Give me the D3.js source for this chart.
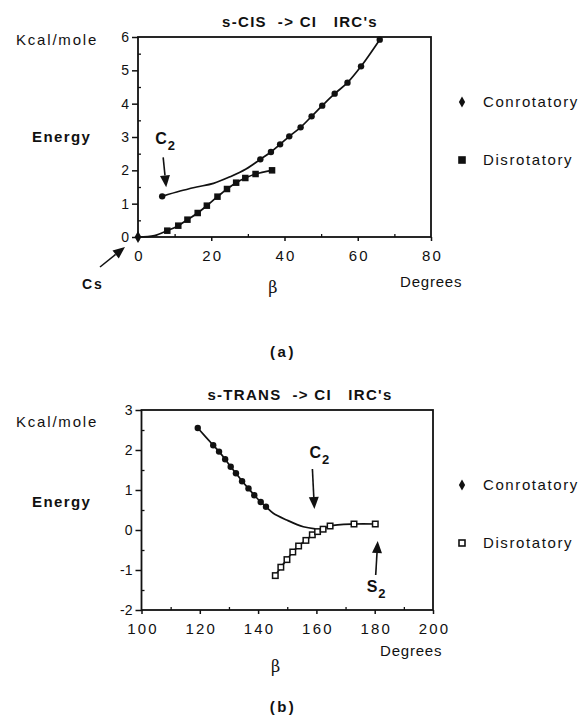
<!DOCTYPE html>
<html>
<head>
<meta charset="utf-8">
<script src="https://cdn.jsdelivr.net/npm/d3@7"></script>
<style>
    body { margin: 0; background: #fff; }
    text { font-family: "Liberation Sans", Arial, Helvetica, sans-serif; fill: #111; }
</style>
</head>
<body>
<svg id="chart" width="587" height="723"></svg>
<script>
// (a) s-CIS -> CI
const cisConBeta   = [6.6, 11.5, 16.0, 20.6, 25.2, 29.5, 33.4, 36.3, 38.8, 41.3, 44.4, 47.4, 50.3, 53.7, 57.2, 60.9, 66.0];
const cisConEnergy = [1.22, 1.38, 1.50, 1.61, 1.81, 2.04, 2.33, 2.55, 2.78, 3.02, 3.29, 3.62, 3.94, 4.30, 4.63, 5.12, 5.92];
const cisConMarked = [1, 0, 0, 0, 0, 0, 1, 1, 1, 1, 1, 1, 1, 1, 1, 1, 1];
const cisDisBeta   = [0, 4.5, 8.0, 11.0, 13.5, 16.3, 18.8, 21.7, 24.3, 26.8, 29.3, 32.1, 36.6];
const cisDisEnergy = [0, 0.04, 0.19, 0.34, 0.52, 0.72, 0.94, 1.21, 1.44, 1.63, 1.77, 1.89, 2.00];
const cisDisMarked = [0, 0, 1, 1, 1, 1, 1, 1, 1, 1, 1, 1, 1];
const cisXTicks = [0, 20, 40, 60, 80];
const cisYTicks = [0, 1, 2, 3, 4, 5, 6];

// (b) s-TRANS -> CI
const transConBeta   = [119.3, 124.6, 126.6, 128.7, 130.6, 132.4, 134.5, 136.7, 138.7, 140.9, 142.7, 145.2, 149.8, 155.5, 159.6];
const transConEnergy = [2.55, 2.12, 1.96, 1.77, 1.58, 1.42, 1.22, 1.04, 0.87, 0.70, 0.58, 0.42, 0.25, 0.08, 0.03];
const transConMarked = [1, 1, 1, 1, 1, 1, 1, 1, 1, 1, 1, 0, 0, 0, 0];
const transDisBeta   = [145.9, 147.8, 149.9, 151.9, 153.9, 156.4, 158.6, 160.4, 162.3, 164.7, 172.9, 180.2];
const transDisEnergy = [-1.14, -0.93, -0.74, -0.55, -0.40, -0.26, -0.12, -0.04, 0.02, 0.10, 0.15, 0.15];
const transDisMarked = [1, 1, 1, 1, 1, 1, 1, 1, 1, 1, 1, 1];
const transXTicks = [100, 120, 140, 160, 180, 200];
const transYTicks = [-2, -1, 0, 1, 2, 3];

const svg = d3.select("#chart");
const ink = "#111";

function arrow(g, x1, y1, x2, y2) {
    const a = Math.atan2(y2 - y1, x2 - x1);
    const len = 12, half = 5;
    const bx = x2 - len * Math.cos(a), by = y2 - len * Math.sin(a);
    g.append("line")
        .attr("x1", x1).attr("y1", y1).attr("x2", bx).attr("y2", by)
        .attr("stroke", ink).attr("stroke-width", 1.6);
    g.append("path")
        .attr("d", `M${x2},${y2}L${bx + half * Math.sin(a)},${by - half * Math.cos(a)}L${bx - half * Math.sin(a)},${by + half * Math.cos(a)}Z`)
        .attr("fill", ink);
}

function subLabel(g, x0, y0, main, sub, size) {
    const t = g.append("text")
        .attr("x", x0).attr("y", y0)
        .attr("font-size", size).attr("font-weight", "bold");
    t.append("tspan").text(main);
    t.append("tspan").attr("dy", 6).attr("dx", 1).attr("font-size", size - 3).text(sub);
}

function drawPanel(p) {
    const x = d3.scaleLinear().domain(p.xDomain).range(p.xRange);
    const y = d3.scaleLinear().domain(p.yDomain).range(p.yRange);
    const g = svg.append("g");

    // minor ticks
    const xMinor = d3.range(p.xDomain[0] + p.xStep / 2, p.xDomain[1], p.xStep);
    const yMinor = d3.range(p.yDomain[0] + 0.5, p.yDomain[1], 1);
    g.append("g").attr("transform", `translate(0,${p.yRange[0]})`)
        .call(d3.axisBottom(x).tickValues(xMinor).tickSize(-3).tickFormat(""))
        .call(a => a.select(".domain").remove())
        .selectAll("line").attr("stroke", ink).attr("stroke-width", 1.3);
    g.append("g").attr("transform", `translate(${p.xRange[0]},0)`)
        .call(d3.axisLeft(y).tickValues(yMinor).tickSize(-3).tickFormat(""))
        .call(a => a.select(".domain").remove())
        .selectAll("line").attr("stroke", ink).attr("stroke-width", 1.3);

    // major axes
    const xAxis = g.append("g").attr("transform", `translate(0,${p.yRange[0]})`)
        .call(d3.axisBottom(x).tickValues(p.xTicks).tickSize(4).tickPadding(9).tickFormat(d => String(d)));
    xAxis.attr("font-size", 15);
    xAxis.select(".domain").remove();
    xAxis.selectAll("line").attr("stroke", ink).attr("stroke-width", 1.5);
    xAxis.selectAll("text").attr("letter-spacing", 2.2).attr("dx", 1);

    const yAxis = g.append("g").attr("transform", `translate(${p.xRange[0]},0)`)
        .call(d3.axisLeft(y).tickValues(p.yTicks).tickSize(6).tickPadding(3).tickFormat(d => String(d)));
    yAxis.attr("font-size", 14);
    yAxis.select(".domain").remove();
    yAxis.selectAll("line").attr("stroke", ink).attr("stroke-width", 1.5);

    // frame
    g.append("rect")
        .attr("x", p.xRange[0]).attr("y", p.yRange[1])
        .attr("width", p.xRange[1] - p.xRange[0])
        .attr("height", p.yRange[0] - p.yRange[1])
        .attr("fill", "none").attr("stroke", ink).attr("stroke-width", 1.8);

    // curves
    const line = (bx, ey) => d3.line()
        .x(i => x(bx[i])).y(i => y(ey[i]))
        .curve(d3.curveCatmullRom.alpha(0.5))(d3.range(bx.length));
    g.append("path").attr("d", line(p.disBeta, p.disEnergy))
        .attr("fill", "none").attr("stroke", ink).attr("stroke-width", 1.7);
    g.append("path").attr("d", line(p.conBeta, p.conEnergy))
        .attr("fill", "none").attr("stroke", ink).attr("stroke-width", 1.7);

    // markers
    g.append("g").selectAll("rect")
        .data(d3.range(p.disBeta.length).filter(i => p.disMarked[i]))
        .join("rect")
        .attr("x", i => x(p.disBeta[i]) - p.disSize / 2).attr("y", i => y(p.disEnergy[i]) - p.disSize / 2)
        .attr("width", p.disSize).attr("height", p.disSize)
        .attr("fill", p.disFill).attr("stroke", ink).attr("stroke-width", 1.5);
    g.append("g").selectAll("circle")
        .data(d3.range(p.conBeta.length).filter(i => p.conMarked[i]))
        .join("circle")
        .attr("cx", i => x(p.conBeta[i])).attr("cy", i => y(p.conEnergy[i]))
        .attr("r", 3.2).attr("fill", ink);

    // titles and axis labels
    g.append("text").attr("x", 300).attr("y", p.yRange[1] - 10)
        .attr("text-anchor", "middle").attr("font-size", 15).attr("font-weight", "bold")
        .attr("letter-spacing", 1.3).style("white-space", "pre")
        .text(p.title);
    g.append("text").attr("x", 16).attr("y", p.kcalY)
        .attr("font-size", 15).attr("letter-spacing", 1.8).text("Kcal/mole");
    g.append("text").attr("x", 32).attr("y", p.energyY)
        .attr("font-size", 15).attr("font-weight", "bold").attr("letter-spacing", 1.4).text("Energy");
    g.append("text").attr("x", x(p.xDomain[0] + 0.46 * (p.xDomain[1] - p.xDomain[0]))).attr("y", p.betaY)
        .style("font-family", "'DejaVu Serif', serif")
        .attr("font-size", 16).attr("text-anchor", "middle").text("β");
    g.append("text").attr("x", p.degreesX).attr("y", p.degreesY)
        .attr("font-size", 15).attr("letter-spacing", 0.8).text("Degrees");
    g.append("text").attr("x", 283).attr("y", p.tagY)
        .attr("font-size", 15).attr("font-weight", "bold").attr("letter-spacing", 2.5)
        .attr("text-anchor", "middle").text(p.tag);

    // legend
    const legend = g.append("g").attr("transform", "translate(462,0)");
    legend.append("path")
        .attr("transform", `translate(0,${p.legendY[0]})`)
        .attr("d", d3.symbol(d3.symbolDiamond, 34)())
        .attr("fill", ink);
    legend.append("rect")
        .attr("x", -3).attr("y", p.legendY[1] - 3).attr("width", 6).attr("height", 6)
        .attr("fill", p.disFill).attr("stroke", ink).attr("stroke-width", 1.6);
    legend.selectAll("text.lg")
        .data(["Conrotatory", "Disrotatory"])
        .join("text").attr("class", "lg")
        .attr("x", 21).attr("y", (d, i) => p.legendY[i] + 5)
        .attr("font-size", 15).attr("letter-spacing", 1.6)
        .text(d => d);

    return { g, x, y };
}

// panel (a)
const a = drawPanel({
    xDomain: [0, 80], xRange: [138, 431], xStep: 20, xTicks: cisXTicks,
    yDomain: [0, 6], yRange: [237, 37], yTicks: cisYTicks,
    conBeta: cisConBeta, conEnergy: cisConEnergy, conMarked: cisConMarked,
    disBeta: cisDisBeta, disEnergy: cisDisEnergy, disMarked: cisDisMarked,
    disFill: ink, disSize: 5,
    title: "s-CIS  -> CI   IRC's",
    kcalY: 45, energyY: 142, betaY: 293, degreesX: 400, degreesY: 287, tagY: 357, tag: "(a)",
    legendY: [102, 160]
});
// Cs point at the origin
a.g.append("path")
    .attr("transform", `translate(${a.x(cisDisBeta[0])},${a.y(cisDisEnergy[0])})`)
    .attr("d", d3.symbol(d3.symbolDiamond, 40)())
    .attr("fill", ink);
arrow(a.g, a.x(0) - 38, a.y(0) + 30, a.x(0) - 13, a.y(0) + 10);
a.g.append("text").attr("x", 82).attr("y", a.y(0) + 52)
    .attr("font-size", 14).attr("font-weight", "bold").attr("letter-spacing", 2).text("Cs");
// C2 label
subLabel(a.g, a.x(cisConBeta[0]) - 7, a.y(cisConEnergy[0]) - 52, "C", "2", 16);
arrow(a.g, a.x(cisConBeta[0]) + 1, a.y(cisConEnergy[0]) - 39, a.x(cisConBeta[0]) + 4, a.y(cisConEnergy[0]) - 9);

// panel (b)
const b = drawPanel({
    xDomain: [100, 200], xRange: [141.5, 433], xStep: 20, xTicks: transXTicks,
    yDomain: [-2, 3], yRange: [610, 410], yTicks: transYTicks,
    conBeta: transConBeta, conEnergy: transConEnergy, conMarked: transConMarked,
    disBeta: transDisBeta, disEnergy: transDisEnergy, disMarked: transDisMarked,
    disFill: "#fff", disSize: 5.5,
    title: "s-TRANS  -> CI   IRC's",
    kcalY: 427, energyY: 507, betaY: 672, degreesX: 380, degreesY: 656, tagY: 712, tag: "(b)",
    legendY: [485, 543]
});
subLabel(b.g, b.x(160) - 7, b.y(0) - 72, "C", "2", 16);
arrow(b.g, b.x(160) - 4, b.y(0) - 61, b.x(160) - 2, b.y(0) - 21);
subLabel(b.g, b.x(180) - 8, b.y(0) + 62, "S", "2", 16);
arrow(b.g, b.x(180) + 1, b.y(0) + 45, b.x(180) + 3, b.y(0) + 11);
</script>
</body>
</html>
